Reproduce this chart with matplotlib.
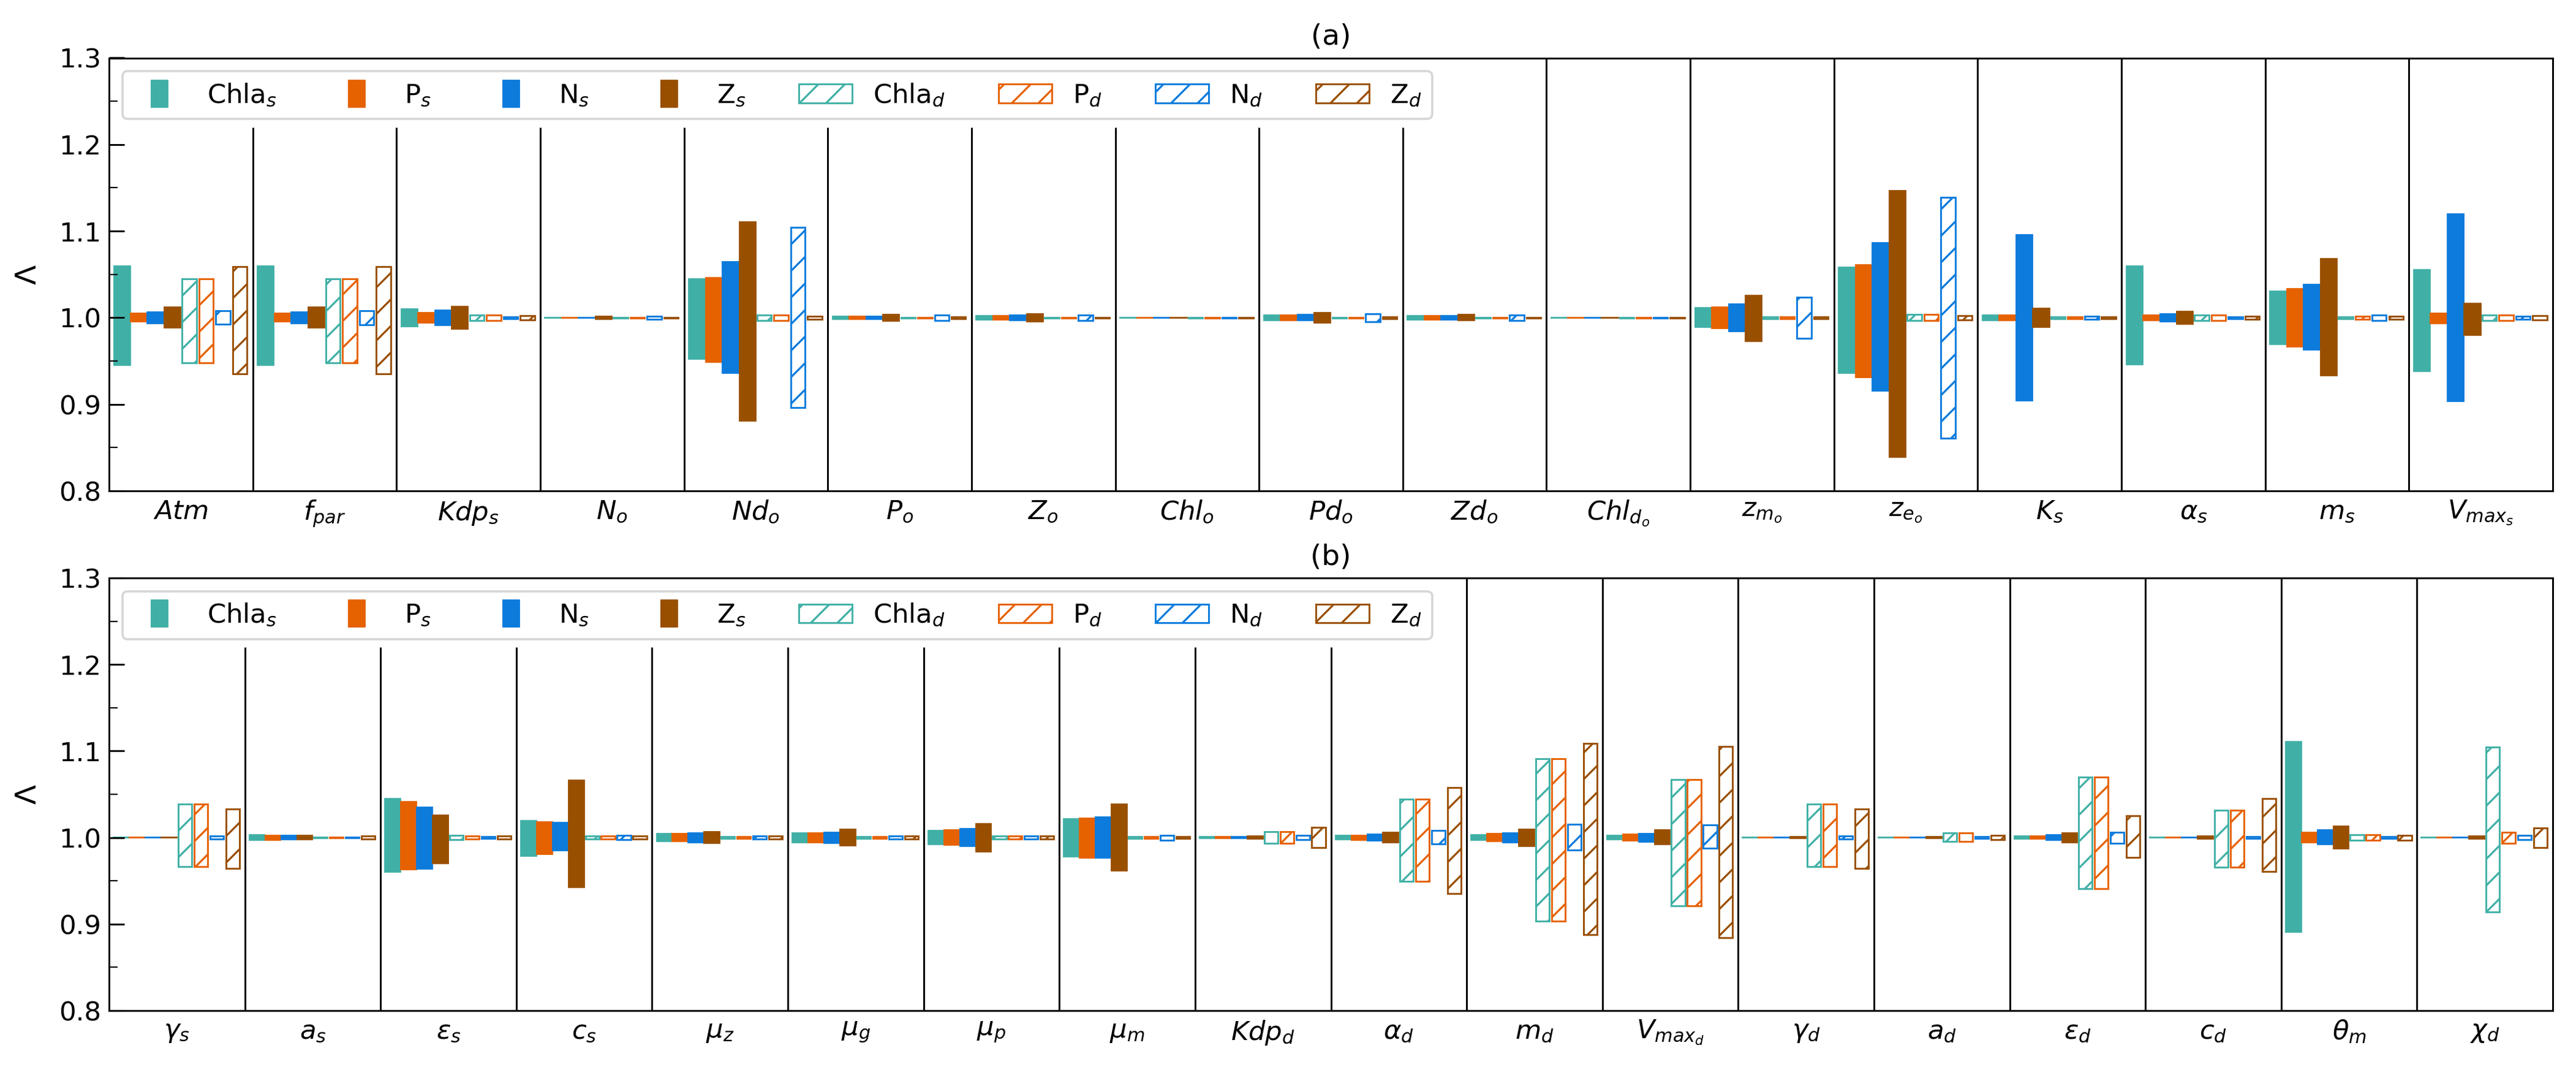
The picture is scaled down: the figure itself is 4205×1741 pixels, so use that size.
import numpy as np
import matplotlib
matplotlib.use("Agg")
import matplotlib.pyplot as plt
from matplotlib.lines import Line2D
from matplotlib.patches import Patch
from matplotlib.ticker import MultipleLocator

# ---- data: one row per parameter, columns follow `series` ----
series = ["Chla$_s$", "P$_s$", "N$_s$", "Z$_s$",
          "Chla$_d$", "P$_d$", "N$_d$", "Z$_d$"]
colors = ["#40B0A6", "#E66100", "#0C7BDC", "#994F00"] * 2
hatched = [False] * 4 + [True] * 4

params_a = [r"$Atm$", r"$f_{par}$", r"$Kdp_s$", r"$N_o$", r"$Nd_o$", r"$P_o$",
            r"$Z_o$", r"$Chl_o$", r"$Pd_o$", r"$Zd_o$", r"$Chl_{d_o}$",
            r"$z_{m_o}$", r"$z_{e_o}$", r"$K_s$", r"$\alpha_s$", r"$m_s$",
            r"$V_{max_s}$"]

hi_a = [
    [1.060, 1.005, 1.0066, 1.0124, 1.045, 1.045, 1.0078, 1.059],
    [1.060, 1.005, 1.0066, 1.012, 1.045, 1.045, 1.008, 1.059],
    [1.0105, 1.006, 1.0085, 1.013, 1.003, 1.003, 1.0008, 1.0027],
    [1.0006, 1.0006, 1.0006, 1.002, 1.0003, 1.0003, 1.0015, 1.0003],
    [1.0446, 1.0466, 1.065, 1.111, 1.003, 1.003, 1.104, 1.002],
    [1.0015, 1.0015, 1.002, 1.0035, 1.0003, 1.0003, 1.003, 1.001],
    [1.0023, 1.0025, 1.003, 1.0047, 1.0003, 1.0003, 1.003, 1.0003],
    [1.0004, 1.0004, 1.0004, 1.0004, 1.0003, 1.0003, 1.0003, 1.0003],
    [1.003, 1.003, 1.0035, 1.006, 1.0003, 1.0003, 1.0047, 1.001],
    [1.0023, 1.0023, 1.0027, 1.0035, 1.0003, 1.0003, 1.003, 1.0003],
    [1.0004, 1.0004, 1.0004, 1.0004, 1.0003, 1.0003, 1.0003, 1.0003],
    [1.0113, 1.012, 1.016, 1.026, 1.001, 1.001, 1.0237, 1.001],
    [1.058, 1.061, 1.0866, 1.1467, 1.0035, 1.0035, 1.139, 1.0023],
    [1.003, 1.003, 1.096, 1.011, 1.001, 1.001, 1.002, 1.001],
    [1.0594, 1.003, 1.0047, 1.0074, 1.003, 1.003, 1.001, 1.002],
    [1.031, 1.0338, 1.0384, 1.0683, 1.001, 1.002, 1.003, 1.0015],
    [1.0555, 1.005, 1.12, 1.0167, 1.003, 1.003, 1.002, 1.0025],
]
lo_a = [
    [0.945, 0.995, 0.9934, 0.9884, 0.948, 0.948, 0.9922, 0.935],
    [0.945, 0.995, 0.9934, 0.988, 0.948, 0.948, 0.992, 0.935],
    [0.9895, 0.994, 0.991, 0.9865, 0.997, 0.997, 0.9992, 0.9973],
    [0.9994, 0.9994, 0.9994, 0.998, 0.9997, 0.9997, 0.9985, 0.9997],
    [0.952, 0.9488, 0.936, 0.881, 0.997, 0.997, 0.896, 0.998],
    [0.9985, 0.9985, 0.998, 0.996, 0.9997, 0.9997, 0.997, 0.999],
    [0.9977, 0.9975, 0.997, 0.9953, 0.9997, 0.9997, 0.997, 0.9997],
    [0.9996, 0.9996, 0.9996, 0.9996, 0.9997, 0.9997, 0.9997, 0.9997],
    [0.997, 0.997, 0.9965, 0.994, 0.9997, 0.9997, 0.995, 0.999],
    [0.9977, 0.9977, 0.9973, 0.9965, 0.9997, 0.9997, 0.997, 0.9997],
    [0.9996, 0.9996, 0.9996, 0.9996, 0.9997, 0.9997, 0.9997, 0.9997],
    [0.989, 0.9876, 0.9837, 0.9728, 0.999, 0.999, 0.9763, 0.999],
    [0.936, 0.931, 0.9154, 0.839, 0.9965, 0.9965, 0.861, 0.9977],
    [0.997, 0.997, 0.9037, 0.989, 0.999, 0.999, 0.998, 0.999],
    [0.9457, 0.9965, 0.9953, 0.9926, 0.997, 0.997, 0.999, 0.998],
    [0.969, 0.9666, 0.9631, 0.9332, 0.999, 0.998, 0.997, 0.9985],
    [0.938, 0.9934, 0.903, 0.98, 0.997, 0.997, 0.998, 0.9975],
]

params_b = [r"$\gamma_s$", r"$a_s$", r"$\epsilon_s$", r"$c_s$", r"$\mu_z$",
            r"$\mu_g$", r"$\mu_p$", r"$\mu_m$", r"$Kdp_d$", r"$\alpha_d$",
            r"$m_d$", r"$V_{max_d}$", r"$\gamma_d$", r"$a_d$", r"$\epsilon_d$",
            r"$c_d$", r"$\theta_m$", r"$\chi_d$"]

hi_b = [
    [1.0004, 1.0004, 1.0004, 1.0004, 1.0386, 1.0386, 1.0016, 1.033],
    [1.003, 1.0028, 1.0024, 1.0024, 1.0003, 1.0003, 1.0003, 1.0016],
    [1.045, 1.0414, 1.035, 1.026, 1.0024, 1.002, 1.001, 1.002],
    [1.0195, 1.0183, 1.0175, 1.066, 1.002, 1.0016, 1.0024, 1.0016],
    [1.005, 1.0048, 1.0056, 1.007, 1.001, 1.001, 1.0016, 1.0016],
    [1.0056, 1.0056, 1.0064, 1.0095, 1.001, 1.001, 1.0016, 1.0016],
    [1.0084, 1.0088, 1.010, 1.0163, 1.0016, 1.0016, 1.0016, 1.0016],
    [1.0215, 1.0223, 1.024, 1.0386, 1.001, 1.001, 1.0028, 1.001],
    [1.001, 1.001, 1.001, 1.0016, 1.0068, 1.0068, 1.0024, 1.0115],
    [1.0024, 1.0028, 1.004, 1.006, 1.0441, 1.0441, 1.0084, 1.0577],
    [1.003, 1.0044, 1.0052, 1.0095, 1.091, 1.091, 1.0155, 1.109],
    [1.0024, 1.004, 1.005, 1.0088, 1.0672, 1.0672, 1.0143, 1.1054],
    [1.0004, 1.0004, 1.0004, 1.001, 1.0386, 1.0386, 1.0016, 1.033],
    [1.0004, 1.0004, 1.0004, 1.001, 1.0056, 1.0056, 1.001, 1.0024],
    [1.002, 1.002, 1.003, 1.0056, 1.0696, 1.0696, 1.0064, 1.025],
    [1.0004, 1.0004, 1.0004, 1.0016, 1.0318, 1.0318, 1.001, 1.0453],
    [1.111, 1.006, 1.0088, 1.0135, 1.003, 1.003, 1.001, 1.0028],
    [1.0004, 1.0004, 1.0004, 1.0016, 1.1046, 1.006, 1.0024, 1.0107],
]
lo_b = [
    [0.9996, 0.9996, 0.9996, 0.9996, 0.9666, 0.9666, 0.998, 0.9646],
    [0.997, 0.9972, 0.9976, 0.9976, 0.9997, 0.9997, 0.9997, 0.9984],
    [0.960, 0.9626, 0.9638, 0.970, 0.9976, 0.998, 0.999, 0.998],
    [0.9785, 0.9805, 0.9845, 0.9427, 0.998, 0.9984, 0.9976, 0.9984],
    [0.9952, 0.9952, 0.9944, 0.993, 0.999, 0.999, 0.9984, 0.9984],
    [0.9944, 0.9944, 0.9936, 0.9908, 0.999, 0.999, 0.9984, 0.9984],
    [0.9916, 0.9912, 0.990, 0.9837, 0.9984, 0.9984, 0.9984, 0.9984],
    [0.9777, 0.9765, 0.9765, 0.9614, 0.999, 0.999, 0.9972, 0.999],
    [0.999, 0.999, 0.999, 0.9984, 0.9932, 0.9932, 0.9976, 0.9885],
    [0.9976, 0.9972, 0.996, 0.994, 0.9495, 0.9495, 0.9924, 0.935],
    [0.997, 0.9952, 0.9944, 0.990, 0.9037, 0.9037, 0.9853, 0.888],
    [0.9976, 0.996, 0.995, 0.992, 0.9212, 0.9212, 0.9877, 0.8842],
    [0.9996, 0.9996, 0.9996, 0.999, 0.9666, 0.9666, 0.998, 0.9646],
    [0.9996, 0.9996, 0.9996, 0.999, 0.9952, 0.9952, 0.999, 0.9976],
    [0.998, 0.998, 0.997, 0.994, 0.9407, 0.9407, 0.9932, 0.9773],
    [0.9996, 0.9996, 0.9996, 0.9984, 0.9658, 0.9658, 0.999, 0.961],
    [0.891, 0.994, 0.9916, 0.9869, 0.997, 0.997, 0.999, 0.9972],
    [0.9996, 0.9996, 0.9996, 0.9984, 0.914, 0.9932, 0.9976, 0.9885],
]

DPI = 260
W, H = 4205, 1741
plt.rcParams["font.size"] = 12
plt.rcParams["hatch.linewidth"] = 0.9

offsets = np.linspace(-0.41, 0.41, 8)

fig = plt.figure(figsize=(W / DPI, H / DPI), dpi=DPI)
ax_a = fig.add_axes([178 / W, 1 - 801 / H, 3989 / W, 706.5 / H])
ax_b = fig.add_axes([178 / W, 1 - 1649 / H, 3989 / W, 706 / H])

solid_shape = [(-0.32, -0.5), (0.32, -0.5), (0.32, 0.5), (-0.32, 0.5)]


def draw_panel(ax, params, hi, lo, title):
    hi = np.array(hi)
    lo = np.array(lo)
    x = np.arange(len(params))
    for j in range(8):
        if hatched[j]:
            ax.bar(x + offsets[j], hi[:, j] - lo[:, j], bottom=lo[:, j],
                   width=0.1, fill=False, edgecolor=colors[j],
                   hatch="//", linewidth=0.8)
        else:
            ax.bar(x + offsets[j], hi[:, j] - lo[:, j], bottom=lo[:, j],
                   width=0.116, color=colors[j], edgecolor=colors[j],
                   linewidth=0.5)
    # group separators, the ones under the legend stop below it
    for k in range(1, len(params)):
        top = 1.22 if k <= 9 else 1.3
        ax.vlines(k - 0.5, 0.8, top, color="k", linewidth=0.8)
    ax.set_xlim(-0.5, len(params) - 0.5)
    ax.set_ylim(0.8, 1.3)
    ax.set_xticks(x)
    ax.set_xticklabels(params)
    ax.tick_params(axis="x", length=0)
    ax.yaxis.set_major_locator(MultipleLocator(0.1))
    ax.yaxis.set_minor_locator(MultipleLocator(0.05))
    ax.tick_params(axis="y", which="major", direction="in", length=7)
    ax.tick_params(axis="y", which="minor", direction="in", length=4)
    ax.set_ylabel(r"$\Lambda$", fontsize=13, labelpad=7.5)
    ax.set_title(title, fontsize=13)

    handles = []
    for j in range(8):
        if hatched[j]:
            handles.append(Patch(fill=False, edgecolor=colors[j], hatch="//",
                                 linewidth=0.8, label=series[j]))
        else:
            handles.append(Line2D([], [], linestyle="none", marker=solid_shape,
                                  markersize=12.3, markerfacecolor=colors[j],
                                  markeredgecolor=colors[j], markeredgewidth=0.5,
                                  label=series[j]))
    ax.legend(handles=handles, loc="upper left", ncol=8, columnspacing=2.0)


draw_panel(ax_a, params_a, hi_a, lo_a, "(a)")
draw_panel(ax_b, params_b, hi_b, lo_b, "(b)")

fig.savefig("out.png", dpi=DPI)
